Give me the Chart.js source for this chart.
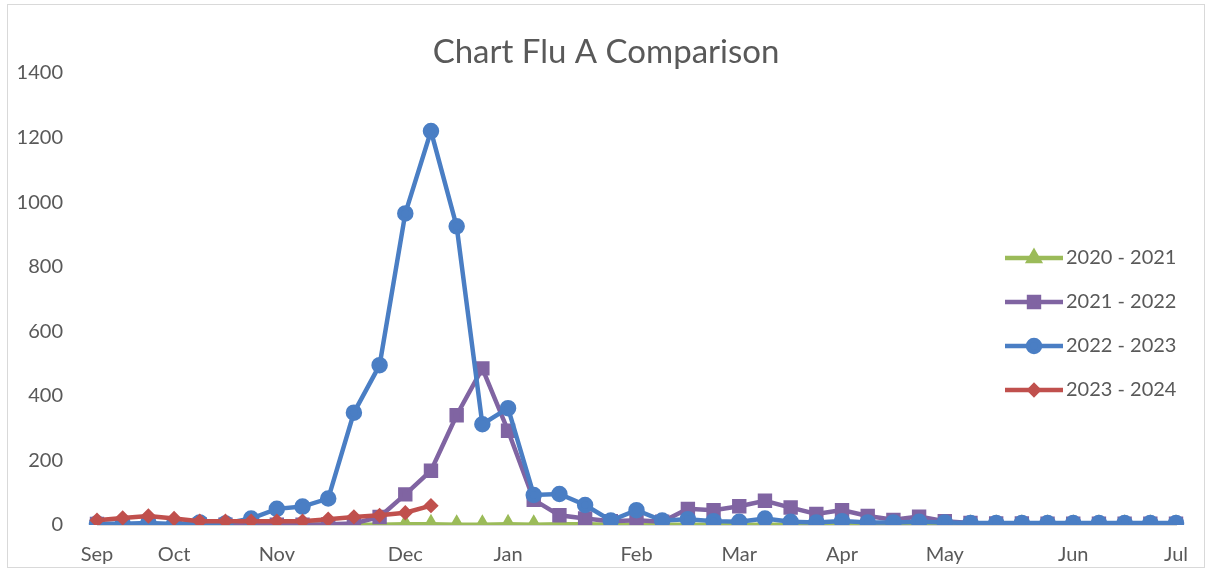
<!DOCTYPE html>
<html lang="en">
<head>
  <meta charset="UTF-8">
  <title>Chart Flu A Comparison</title>
  <script src="https://cdn.jsdelivr.net/npm/chart.js"></script>
  <style>
    body { margin: 0; background: #fff; }
  </style>
</head>
<body>
  <canvas id="fluChart" width="1212" height="571"></canvas>

  <script>
    // Weekly points, Sep -> Jul (only month starts are labelled)
    const weekLabels = [
      'Sep', '', '', 'Oct', '', '', '', 'Nov', '', '', '', '', 'Dec', '', '', '', 'Jan', '', '', '', '',
      'Feb', '', '', '', 'Mar', '', '', '', 'Apr', '', '', '', 'May', '', '', '', '', 'Jun', '', '', '', 'Jul'
    ];

    const season2020 = [
      1, 1, 1, 1, 1, 1, 1, 1, 1, 1, 1, 1, 2, 2, 1, 1, 2, 1, 2, 2, 1,
      1, 1, 1, 1, 1, 1, 1, 1, 1, 1, 1, 1, 1, 1, 1, 1, 1, 1, 1, 1, 1, 1
    ];
    const season2021 = [
      3, 1, 2, 1, 2, 1, 2, 1, 1, 2, 5, 25, 95, 168, 340, 485, 292, 78, 30, 20, 12,
      15, 10, 50, 46, 58, 75, 54, 34, 46, 28, 16, 26, 12, 6, 5, 5, 4, 4, 4, 4, 4, 4
    ];
    const season2022 = [
      5, 4, 6, 3, 8, 5, 20, 50, 57, 82, 348, 495, 965, 1220, 925, 312, 362, 93, 96, 62, 14,
      46, 14, 18, 12, 10, 20, 10, 8, 12, 8, 8, 10, 8, 6, 6, 6, 6, 6, 6, 6, 6, 6
    ];
    const season2023 = [15, 22, 28, 20, 12, 12, 12, 12, 12, 18, 25, 30, 38, 60];

    const chartTitle = 'Chart Flu A Comparison';
    const textColor = '#595959';
    const fontFamily = 'Lato, "Noto Sans", sans-serif';

    // white background, thin outer border and the centred title
    const frame = {
      id: 'frame',
      beforeDraw(chart) {
        const ctx = chart.ctx;
        ctx.save();
        ctx.fillStyle = '#fff';
        ctx.fillRect(0, 0, chart.width, chart.height);
        ctx.strokeStyle = '#d9d9d9';
        ctx.lineWidth = 1;
        ctx.strokeRect(7.5, 4.5, chart.width - 15, chart.height - 8);
        ctx.fillStyle = textColor;
        ctx.font = '33px ' + fontFamily;
        ctx.textAlign = 'center';
        ctx.textBaseline = 'middle';
        ctx.fillText(chartTitle, chart.width / 2, 52);
        ctx.restore();
      }
    };

    // legend drawn as line + marker, sitting over the right of the plot
    const sideLegend = {
      id: 'sideLegend',
      afterDraw(chart) {
        const ctx = chart.ctx;
        ctx.save();
        chart.data.datasets.forEach((ds, i) => {
          const y = 258 + i * 44;
          ctx.strokeStyle = ds.borderColor;
          ctx.fillStyle = ds.borderColor;
          ctx.lineWidth = ds.borderWidth;
          ctx.beginPath();
          ctx.moveTo(1005, y);
          ctx.lineTo(1063, y);
          ctx.stroke();
          Chart.helpers.drawPoint(ctx, { pointStyle: ds.pointStyle, radius: ds.pointRadius, rotation: 0, borderWidth: 1 }, 1034, y);
          ctx.fillStyle = textColor;
          ctx.font = '20px ' + fontFamily;
          ctx.textBaseline = 'middle';
          ctx.fillText(ds.label, 1066, y);
        });
        ctx.restore();
      }
    };

    function series(label, data, color, style, radius, order) {
      return {
        label: label,
        data: data,
        borderColor: color,
        backgroundColor: color,
        pointBackgroundColor: color,
        pointBorderColor: color,
        pointStyle: style,
        pointRadius: radius,
        borderWidth: 4.5,
        tension: 0,
        order: order
      };
    }

    const ctx = document.getElementById('fluChart').getContext('2d');
    new Chart(ctx, {
      type: 'line',
      data: {
        labels: weekLabels,
        datasets: [
          series('2020 - 2021', season2020, '#9BBB59', 'triangle', 6, 4),
          series('2021 - 2022', season2021, '#8064A2', 'rect', 7, 3),
          series('2022 - 2023', season2022, '#4A7EC4', 'circle', 6, 2),
          series('2023 - 2024', season2023, '#C0504D', 'rectRot', 4.5, 1)
        ]
      },
      options: {
        responsive: false,
        animation: false,
        layout: { padding: { left: 10, right: 36, top: 73, bottom: 0 } },
        plugins: {
          legend: { display: false },
          tooltip: { enabled: false },
          title: { display: false }
        },
        scales: {
          x: {
            offset: false,
            grid: { display: false, drawTicks: false },
            border: { display: true, color: '#d9d9d9' },
            ticks: {
              autoSkip: false,
              maxRotation: 0,
              padding: 18,
              color: textColor,
              font: { family: fontFamily, size: 20 }
            },
            afterFit: s => { s.height = 44; }
          },
          y: {
            min: 0,
            max: 1400,
            grid: { display: false, drawTicks: false },
            border: { display: false },
            ticks: {
              stepSize: 200,
              padding: 34,
              color: textColor,
              font: { family: fontFamily, size: 20 },
              callback: v => String(v)
            },
            afterFit: s => { s.width = 87; }
          }
        }
      },
      plugins: [frame, sideLegend]
    });
  </script>
</body>
</html>
